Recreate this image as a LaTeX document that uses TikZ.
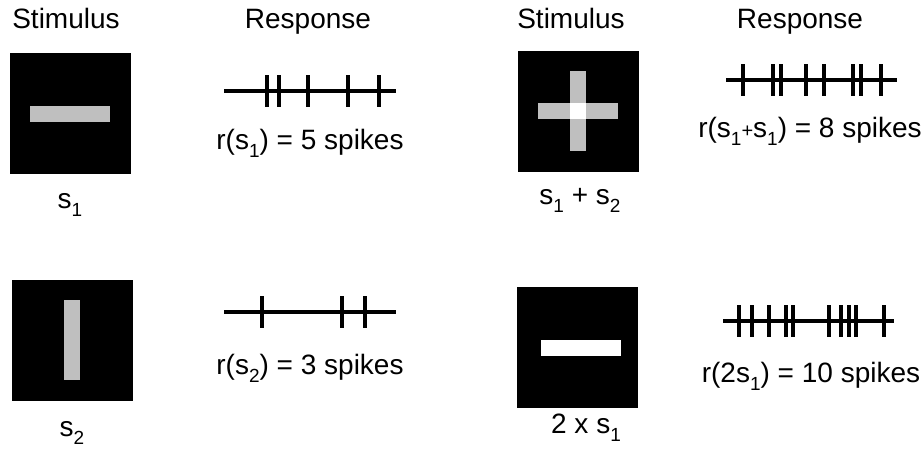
\documentclass[tikz,border=0pt]{standalone}
\usepackage{fontspec}
\setmainfont{Liberation Sans}
\usetikzlibrary{positioning}
\definecolor{bargray}{RGB}{191,191,191}
\newcommand{\lowsub}[1]{\raisebox{-8pt}{\fontsize{19}{19}\selectfont #1}}

\begin{document}
\begin{tikzpicture}[x=1pt, y=-1pt,
    lbl/.style={font=\fontsize{28}{34}\selectfont, inner sep=0pt, anchor=base},
    stimbox/.style={fill=black, minimum width=121pt, minimum height=121pt, inner sep=0pt},
    hbar/.style={fill=bargray, minimum width=80pt, minimum height=16pt, inner sep=0pt},
    vbar/.style={fill=bargray, minimum width=16pt, minimum height=80pt, inner sep=0pt},
    train/.style={line width=3.2pt},
    spike/.style={line width=3.2pt}]
  \useasboundingbox (0,0) rectangle (924,448);

  % Column headers
  \node[lbl] (stimL) at (66,28) {Stimulus};
  \node[lbl] (respL) at (308,28) {Response};
  \node[lbl] (stimR) at (571,28) {Stimulus};
  \node[lbl] (respR) at (800,28) {Response};

  % Stimuli
  \node[stimbox] (sqA) at (70,113.5) {};
  \node[hbar] (barA) at (sqA) {};
  \node[stimbox] (sqB) at (72,340) {};
  \node[vbar] (barB) at (sqB) {};
  \node[stimbox] (sqC) at (578,111) {};
  \node[hbar] (barCh) at (sqC) {};
  \node[vbar] (barCv) at (sqC) {};
  \node[fill=white, minimum size=16pt, inner sep=0pt] (barCw) at (sqC) {};
  \node[stimbox] (sqD) at (577.5,347.5) {};
  \node[hbar, fill=white] (barD) at (581,348) {};

  % Stimulus names
  \node[lbl] (nameA) at (70,208) {s\lowsub{1}};
  \node[lbl] (nameB) at (72,436) {s\lowsub{2}};
  \node[lbl] (nameC) at (580,204) {s\lowsub{1} + s\lowsub{2}};
  \node[lbl] (nameD) at (586,433) {2 x s\lowsub{1}};

  % Spike trains
  \draw[train] (224,91) -- (396,91);
  \foreach \t in {267,279,308,348,379}
    \draw[spike] (\t,75) -- (\t,107);

  \draw[train] (224,312) -- (396,312);
  \foreach \t in {262,342,365}
    \draw[spike] (\t,296) -- (\t,328);

  \draw[train] (726,80) -- (897,80);
  \foreach \t in {743,773,781,806,824,853,861,881}
    \draw[spike] (\t,64) -- (\t,96);

  \draw[train] (723,321) -- (894,321);
  \foreach \t in {739,752,769,786,793,829,841,849,856,884}
    \draw[spike] (\t,305) -- (\t,337);

  % Spike counts
  \node[lbl] (cntA) at (310,149) {r(s\lowsub{1}) = 5 spikes};
  \node[lbl] (cntB) at (310,374) {r(s\lowsub{2}) = 3 spikes};
  \node[lbl] (cntC) at (810,137) {r(s\lowsub{1}{\fontsize{20}{20}\selectfont+}s\lowsub{1}) = 8 spikes};
  \node[lbl] (cntD) at (811,382) {r(2s\lowsub{1}) = 10 spikes};
\end{tikzpicture}
\end{document}
